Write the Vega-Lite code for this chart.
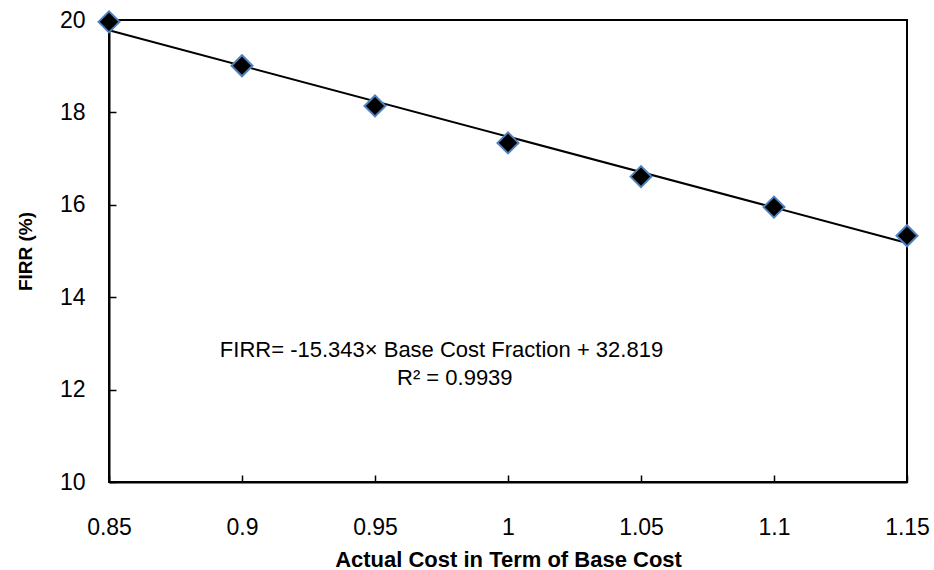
{
  "$schema": "https://vega.github.io/schema/vega-lite/v6.json",
  "width": 798,
  "height": 462,
  "autosize": {"type": "none"},
  "padding": {"left": 109, "top": 20, "right": 27, "bottom": 88},
  "background": "white",
  "config": {
    "font": "Liberation Sans",
    "view": {"stroke": "black", "strokeWidth": 2},
    "axis": {
      "grid": false,
      "domainColor": "black",
      "domainWidth": 2,
      "tickColor": "black",
      "tickWidth": 1.5,
      "labelFont": "Liberation Sans",
      "labelFontSize": 23,
      "labelColor": "black",
      "labelFlush": false,
      "titleFont": "Liberation Sans",
      "titleFontWeight": "bold",
      "titleColor": "black"
    }
  },
  "datasets": {
    "points": [
      {"cost": 0.85, "firr": 19.96},
      {"cost": 0.9, "firr": 19.01},
      {"cost": 0.95, "firr": 18.14},
      {"cost": 1.0, "firr": 17.34},
      {"cost": 1.05, "firr": 16.61},
      {"cost": 1.1, "firr": 15.95},
      {"cost": 1.15, "firr": 15.33}
    ],
    "trend": [
      {"cost": 0.85, "firr": 19.777},
      {"cost": 1.15, "firr": 15.174}
    ],
    "notes": [
      {"cost": 0.975, "firr": 12.86, "label": "FIRR= -15.343× Base Cost Fraction + 32.819"},
      {"cost": 0.98, "firr": 12.25, "label": "R² = 0.9939"}
    ]
  },
  "layer": [
    {
      "data": {"name": "trend"},
      "mark": {"type": "line", "color": "black", "strokeWidth": 2},
      "encoding": {
        "x": {
          "field": "cost", "type": "quantitative",
          "scale": {"domain": [0.85, 1.15], "nice": false, "zero": false},
          "axis": {
            "title": "Actual Cost in Term of Base Cost",
            "titleFontSize": 22,
            "values": [0.85, 0.9, 0.95, 1, 1.05, 1.1, 1.15],
            "format": "~g",
            "tickSize": -7,
            "labelPadding": 41,
            "titlePadding": 10
          }
        },
        "y": {
          "field": "firr", "type": "quantitative",
          "scale": {"domain": [10, 20], "nice": false, "zero": false},
          "axis": {
            "title": "FIRR (%)",
            "titleFontSize": 19,
            "values": [10, 12, 14, 16, 18, 20],
            "tickSize": -7,
            "labelPadding": 31,
            "titlePadding": 24
          }
        }
      }
    },
    {
      "data": {"name": "points"},
      "mark": {"type": "point", "shape": "diamond", "filled": true, "fill": "black", "stroke": "#4f81bd", "strokeWidth": 2, "size": 440, "opacity": 1, "clip": false},
      "encoding": {
        "x": {"field": "cost", "type": "quantitative"},
        "y": {"field": "firr", "type": "quantitative"}
      }
    },
    {
      "data": {"name": "notes"},
      "mark": {"type": "text", "font": "Liberation Sans", "fontSize": 22, "color": "black", "align": "center", "baseline": "middle"},
      "encoding": {
        "x": {"field": "cost", "type": "quantitative"},
        "y": {"field": "firr", "type": "quantitative"},
        "text": {"field": "label"}
      }
    }
  ]
}
